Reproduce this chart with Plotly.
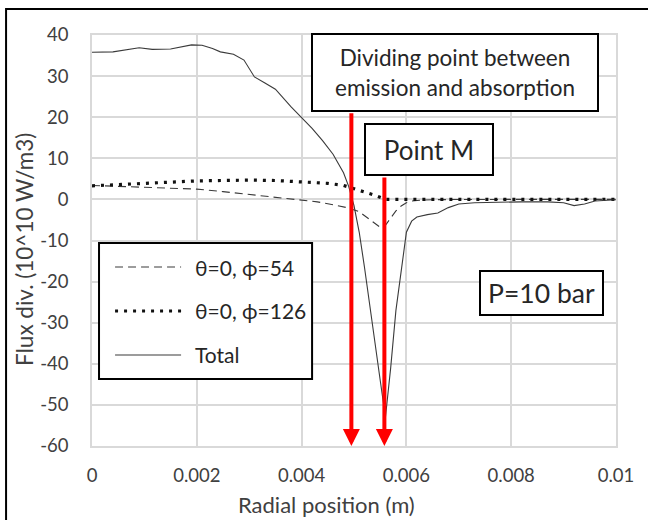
import plotly.graph_objects as go

# ---------------- data ----------------
x_total = [0, 0.0004, 0.0009, 0.00115, 0.0015, 0.0019, 0.0021, 0.0023, 0.00245, 0.0027,
           0.0029, 0.0031, 0.0033, 0.0035, 0.0038, 0.0040, 0.0042, 0.0044, 0.0046, 0.0048,
           0.0049, 0.0050, 0.0051, 0.0052, 0.0053, 0.0054, 0.0055, 0.0056, 0.0057, 0.0058,
           0.0059, 0.0060, 0.0061, 0.0062, 0.0064, 0.0066, 0.0068, 0.0070, 0.0073, 0.0077,
           0.0082, 0.0087, 0.0090, 0.0092, 0.0094, 0.0096, 0.0098, 0.0100]
y_total = [35.8, 35.9, 36.9, 36.5, 36.6, 37.6, 37.5, 36.7, 35.9, 35.3,
           33.9, 29.8, 28.3, 26.8, 22.5, 20.0, 17.3, 14.3, 11.0, 6.5,
           3.1, -1.5, -8.0, -16.5, -26.0, -35.0, -44.0, -53.0, -41.0, -27.0,
           -18.0, -8.0, -5.3, -4.3, -3.7, -3.3, -2.0, -1.1, -0.8, -0.65,
           -0.6, -0.6, -0.8, -1.5, -1.1, -0.4, -0.2, -0.1]

x_phi54 = [0, 0.0005, 0.001, 0.0015, 0.002, 0.0025, 0.003, 0.0035, 0.004, 0.0043,
           0.0046, 0.0049, 0.0051, 0.0053, 0.0055, 0.0056, 0.0057, 0.0058, 0.0059, 0.0060,
           0.0061, 0.0063, 0.0066, 0.007, 0.008, 0.009, 0.01]
y_phi54 = [3.4, 3.2, 3.0, 2.8, 2.5, 1.9, 1.2, 0.5, -0.2, -0.6,
           -1.3, -2.1, -3.0, -4.8, -6.8, -6.3, -4.5, -2.8, -1.6, -0.8,
           -0.4, -0.15, -0.05, 0, 0, 0, 0]

x_phi126 = [0, 0.0005, 0.001, 0.0015, 0.002, 0.0025, 0.003, 0.0035, 0.004, 0.0045,
            0.0048, 0.005, 0.0052, 0.0054, 0.0056, 0.0058, 0.006, 0.007, 0.008, 0.009, 0.01]
y_phi126 = [3.3, 3.6, 3.9, 4.2, 4.5, 4.6, 4.7, 4.6, 4.3, 3.9,
            3.4, 2.6, 1.7, 1.0, 0.0, 0, 0, 0, 0, 0, 0]

series_names = ["θ=0, ϕ=54", "θ=0, ϕ=126", "Total"]

x_tickvals = [0, 0.002, 0.004, 0.006, 0.008, 0.01]
x_ticktext = ["0", "0.002", "0.004", "0.006", "0.008", "0.01"]
y_tickvals = [40, 30, 20, 10, 0, -10, -20, -30, -40, -50, -60]
y_ticktext = ["40", "30", "20", "10", "0", "-10", "-20", "-30", "-40", "-50", "-60"]

x_title = "Radial position (m)"
y_title = "Flux div. (10^10 W/m3)"

arrow_x = [0.00495, 0.00558]          # dividing point, point M
arrow_tail_y = [21.3, 5.7]
arrow_head_y = -60

# ---------------- styles ----------------
FONT = "Lato"
TXT = "#262626"
AXT = "#404040"
LINE = "#3a3a3a"
GRID = "#d9d9d9"

fig = go.Figure()
fig.add_trace(go.Scatter(x=x_phi54, y=y_phi54, mode="lines", name=series_names[0],
                         line=dict(color=LINE, width=1.1, dash="8px,5px"), showlegend=False))
fig.add_trace(go.Scatter(x=x_phi126, y=y_phi126, mode="lines", name=series_names[1],
                         line=dict(color="#111111", width=3.2, dash="3px,6px"), showlegend=False))
fig.add_trace(go.Scatter(x=x_total, y=y_total, mode="lines", name=series_names[2],
                         line=dict(color=LINE, width=1.1), showlegend=False))

fig.update_layout(
    width=648, height=520,
    margin=dict(l=92, r=32, t=35, b=74),
    paper_bgcolor="white", plot_bgcolor="white",
    font=dict(family=FONT, color=TXT),
    showlegend=False,
    xaxis=dict(range=[0, 0.01], tickvals=x_tickvals, ticktext=x_ticktext,
               showgrid=True, gridcolor=GRID, gridwidth=1.5, zeroline=False,
               showline=True, linecolor=GRID, linewidth=1.5, mirror=True,
               ticks="", ticklabelstandoff=12,
               tickfont=dict(family=FONT, size=18.5, color=AXT)),
    yaxis=dict(range=[-60, 40], tickvals=y_tickvals, ticktext=y_ticktext,
               showgrid=True, gridcolor=GRID, gridwidth=1.5, zeroline=False,
               showline=True, linecolor=GRID, linewidth=1.5, mirror=True,
               ticks="", ticklabelstandoff=18,
               tickfont=dict(family=FONT, size=18.5, color=AXT)),
)

# axis titles (placed as in the reference)
fig.add_annotation(x=(326 - 92) / 524, y=(446 - 504) / 411, xref="paper", yref="paper",
                   text=x_title, showarrow=False, xanchor="center", yanchor="middle",
                   font=dict(family=FONT, size=22, color=AXT))
fig.add_annotation(x=(24 - 92) / 524, y=(446 - 250) / 411, xref="paper", yref="paper",
                   text=y_title, showarrow=False, textangle=-90,
                   xanchor="center", yanchor="middle",
                   font=dict(family=FONT, size=22.5, color=AXT))

# red arrows
for ax_, ty in zip(arrow_x, arrow_tail_y):
    fig.add_annotation(x=ax_, y=arrow_head_y, ax=ax_, ay=ty, xref="x", yref="y",
                       axref="x", ayref="y", showarrow=True, text="",
                       arrowhead=2, arrowsize=0.85, arrowwidth=4, arrowcolor="#ff0000")

# text boxes
def box(text, x, y, w, h, size):
    fig.add_annotation(x=x, y=y, xref="x", yref="y", text=text, showarrow=False,
                       width=w, height=h, bgcolor="white", bordercolor="black",
                       borderwidth=2, borderpad=0, align="center", valign="middle",
                       font=dict(family=FONT, size=size, color=TXT))

box("Dividing point between<br>emission and absorption", 0.006927, 30.9, 284, 75, 22.5)
box("Point M", 0.006431, 12.14, 126, 49, 26)
box("P=10 bar", 0.008578, -22.77, 121, 42, 26.5)

# legend box (manual)
fig.add_shape(type="rect", xref="x", yref="y", x0=0.000134, x1=0.0042, y0=-43.7, y1=-10.6,
              fillcolor="white", line=dict(color="black", width=2), layer="above")
leg_y = [-16.45, -27.15, -37.85]
leg_styles = [dict(color=LINE, width=1.1, dash="8px,5px"),
              dict(color="#111111", width=3.2, dash="3px,6px"),
              dict(color=LINE, width=1.1)]
for name, ly, st in zip(series_names, leg_y, leg_styles):
    fig.add_shape(type="line", xref="x", yref="y", x0=0.00044, x1=0.0017, y0=ly, y1=ly,
                  line=st, layer="above")
    fig.add_annotation(x=0.00193, y=ly, xref="x", yref="y", text=name, showarrow=False,
                       xanchor="left", yanchor="middle",
                       font=dict(family=FONT, size=21, color=TXT))

# outer chart frame (left and top visible)
fig.add_shape(type="rect", xref="paper", yref="paper", x0=-0.164, x1=1.12, y0=-0.2, y1=1.063,
              line=dict(color="black", width=2), fillcolor="rgba(0,0,0,0)", layer="above")

fig.write_html("out.html")
